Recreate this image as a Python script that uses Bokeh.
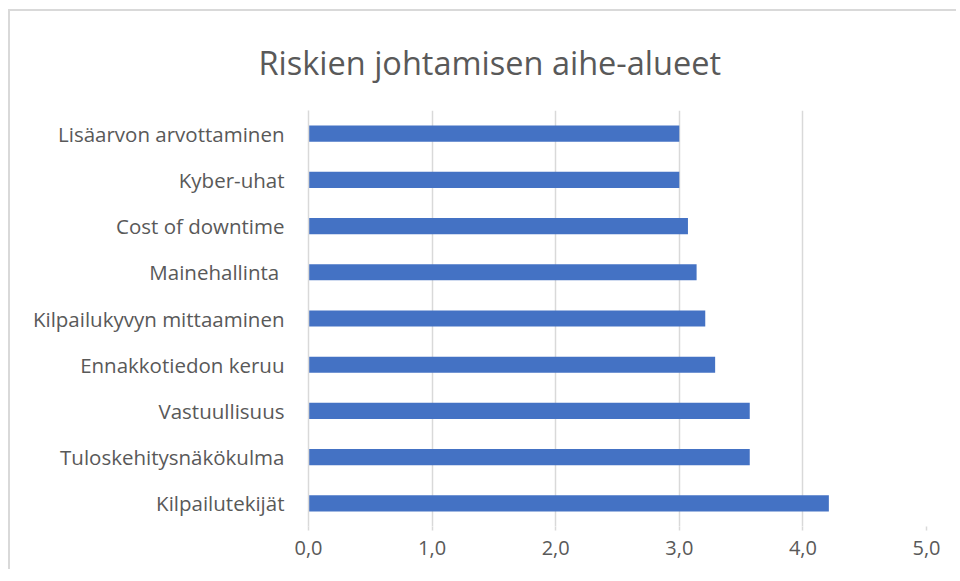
from bokeh.plotting import figure
from bokeh.models import FactorRange, Range1d, FixedTicker, CustomJSTickFormatter, ColumnDataSource
from bokeh.embed import file_html
from bokeh.resources import INLINE

# Data (top to bottom as shown)
categories = ["Lisäarvon arvottaminen", "Kyber-uhat", "Cost of downtime", "Mainehallinta ",
              "Kilpailukyvyn mittaaminen", "Ennakkotiedon keruu", "Vastuullisuus",
              "Tuloskehitysnäkökulma", "Kilpailutekijät"]
values = [3.0, 3.0, 3.07, 3.14, 3.21, 3.29, 3.57, 3.57, 4.21]
x_ticks = [0, 1, 2, 3, 4, 5]

factors = categories[::-1]
src = ColumnDataSource(dict(cat=categories, val=values))

FONT = "Open Sans"
TXT = "#595959"

p = figure(width=948, height=560, output_backend="svg", toolbar_location=None,
           y_range=FactorRange(factors=factors, range_padding=0),
           x_range=Range1d(0, 5),
           min_border_left=298, min_border_right=32, min_border_top=98, min_border_bottom=45)

p.hbar(y="cat", right="val", left=0, height=0.35, source=src, color="#4472C4", line_color=None)

p.title.text = "Riskien johtamisen aihe-alueet"
p.title.align = "left"
p.title.text_font = FONT
p.title.text_font_size = "32.5px"
p.title.text_font_style = "normal"
p.title.text_color = TXT
p.title.standoff = 52
p.title.offset = -50

p.outline_line_color = None
p.background_fill_color = "white"
p.border_fill_color = "white"

# x axis
p.xaxis.ticker = FixedTicker(ticks=x_ticks)
p.xaxis.formatter = CustomJSTickFormatter(code="return tick.toFixed(1).replace('.', ',');")
p.xaxis.axis_line_color = None
p.xaxis.major_tick_in = 0
p.xaxis.major_tick_out = 4
p.xaxis.major_tick_line_color = "#d9d9d9"
p.xaxis.major_tick_line_width = 1.5
p.xaxis.minor_tick_line_color = None
p.xaxis.major_label_text_font = FONT
p.xaxis.major_label_text_font_size = "20px"
p.xaxis.major_label_text_color = TXT
p.xaxis.major_label_standoff = 10

# y axis
p.yaxis.axis_line_color = "#d9d9d9"
p.yaxis.axis_line_width = 1.5
p.yaxis.major_tick_line_color = None
p.yaxis.minor_tick_line_color = None
p.yaxis.major_label_text_font = FONT
p.yaxis.major_label_text_font_size = "20.5px"
p.yaxis.major_label_text_color = TXT
p.yaxis.major_label_standoff = 18

p.xgrid.grid_line_color = "#d9d9d9"
p.xgrid.grid_line_width = 1.5
p.ygrid.grid_line_color = None

p.styles = {"border-top": "2px solid #d9d9d9", "border-left": "2px solid #d9d9d9",
            "margin-left": "8px", "margin-top": "9px"}

open("out.html", "w").write(file_html(p, INLINE))
